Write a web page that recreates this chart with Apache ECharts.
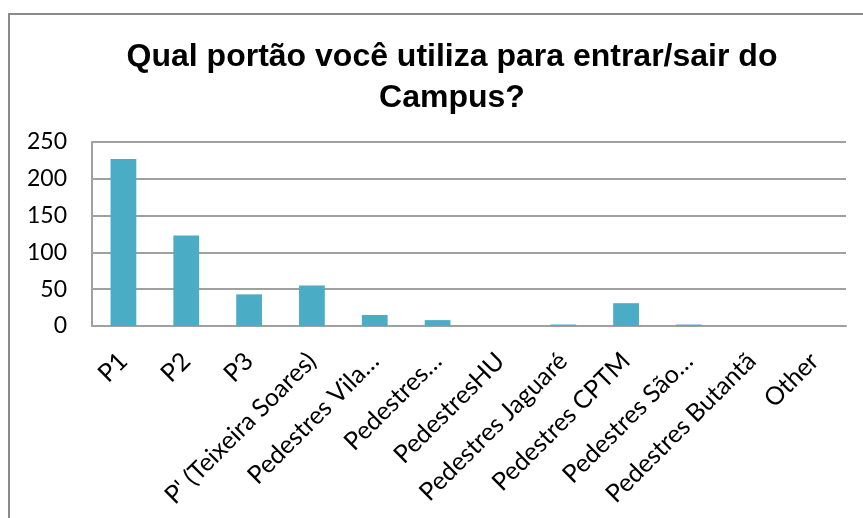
<!DOCTYPE html>
<html>
<head>
<meta charset="utf-8">
<style>
  html, body { margin: 0; padding: 0; background: #ffffff; }
  #chart { width: 863px; height: 518px; }
</style>
<script src="https://cdn.jsdelivr.net/npm/echarts@6/dist/echarts.min.js"></script>
</head>
<body>
<div id="chart"></div>
<script>
// Gate labels and number of answers per gate
const categories = [
  'P1', 'P2', 'P3', "P' (Teixeira Soares)", 'Pedestres Vila…', 'Pedestres…',
  'PedestresHU', 'Pedestres Jaguaré', 'Pedestres CPTM', 'Pedestres São…',
  'Pedestres Butantã', 'Other'
];
const counts = [227, 123, 43, 55, 15, 8, 0, 2, 31, 2, 0, 0];
const yTicks = [0, 50, 100, 150, 200, 250];

const chart = echarts.init(document.getElementById('chart'), null, { renderer: 'canvas' });

chart.setOption({
  animation: false,
  backgroundColor: '#ffffff',
  title: {
    text: 'Qual portão você utiliza para entrar/sair do\nCampus?',
    left: 447,
    top: 32,
    textAlign: 'center',
    textStyle: {
      fontFamily: 'Liberation Sans, Arial, sans-serif',
      fontWeight: 'bold',
      fontSize: 32,
      lineHeight: 41,
      color: '#000000'
    }
  },
  graphic: [{
    type: 'rect',
    shape: { x: 9, y: 14, width: 900, height: 600 },
    style: { fill: 'none', stroke: '#8a8a8a', lineWidth: 2 },
    silent: true
  }],
  grid: { left: 92, right: 17, top: 142, bottom: 192, containLabel: false },
  xAxis: {
    type: 'category',
    data: categories,
    axisLine: { show: true, lineStyle: { color: '#a0a0a0', width: 2 } },
    axisTick: { show: false },
    axisLabel: {
      interval: 0,
      rotate: 45,
      margin: 31,
      fontFamily: 'Lato, Noto Sans, sans-serif',
      fontSize: 25,
      color: '#000000'
    }
  },
  yAxis: {
    type: 'value',
    min: yTicks[0],
    max: yTicks[yTicks.length - 1],
    interval: 50,
    axisLine: { show: true, lineStyle: { color: '#a0a0a0', width: 2 } },
    axisTick: { show: false },
    splitLine: { show: true, lineStyle: { color: '#a0a0a0', width: 2 } },
    axisLabel: {
      margin: 25,
      fontFamily: 'Lato, Noto Sans, sans-serif',
      fontSize: 23,
      color: '#000000'
    }
  },
  series: [{
    type: 'bar',
    data: counts,
    barWidth: '41%',
    itemStyle: { color: '#4bacc6' }
  }]
});
</script>
</body>
</html>
